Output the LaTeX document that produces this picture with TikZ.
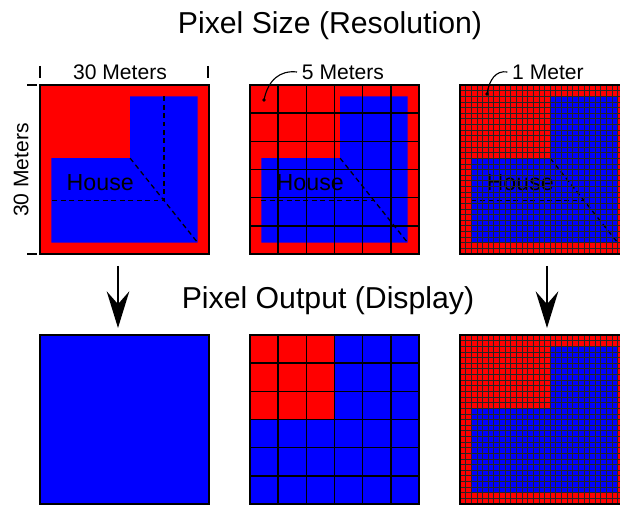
\documentclass[tikz,border=0pt]{standalone}
\usepackage{fontspec}
\setmainfont{Liberation Sans}
\usetikzlibrary{arrows.meta, positioning}
\definecolor{pixred}{HTML}{FF0000}
\definecolor{pixblue}{HTML}{0000FF}

\tikzset{
  panelat/.style={shift={#1}, x=0.1408cm, y=-0.1408cm},
  panelframe/.style={draw=black, line width=1.5pt},
  coarsegrid/.style={draw=black, line width=1.1pt},
  finegrid/.style={draw=black!85, line width=0.5pt},
  roofline/.style={draw=black, line width=0.9pt, dash pattern=on 3.5pt off 2.5pt},
  housetext/.style={font=\fontsize{16.5}{18}\selectfont},
  dimtext/.style={font=\fontsize{15}{17}\selectfont},
  titletext/.style={font=\fontsize{21.5}{25}\selectfont},
  leader/.style={draw=black, line width=0.8pt},
  downarrow/.style={-{Stealth[length=26pt, width=16pt, inset=9pt]}, line width=2pt},
}
% blue L-shaped house in a 30 m x 30 m cell
\newcommand{\houseL}{\fill[pixblue] (2,13) -- (16,13) -- (16,2) -- (28,2) -- (28,28) -- (2,28) -- cycle;}

\begin{document}
\begin{tikzpicture}[x=0.025cm, y=-0.025cm]
\path[use as bounding box, clip] (0,0) rectangle (620,505);

% Titles
\node[titletext] (sizetitle) at (330,26) {Pixel Size (Resolution)};
\node[titletext] (outputtitle) at (328,301) {Pixel Output (Display)};

% Top row: 30 m pixel
\begin{scope}[panelat={(40,85)}]
  \fill[pixred] (0,0) rectangle (30,30);
  \houseL
  \draw[roofline] (22,2) -- (22,20.5) -- (2,20.5);
  \draw[roofline] (16,13) -- (28,28);
  \node[housetext] (houseA) at (10.7,17.4) {House};
  \draw[panelframe] (0,0) rectangle (30,30);
\end{scope}

% Top row: 5 m pixels
\begin{scope}[panelat={(250,85)}]
  \fill[pixred] (0,0) rectangle (30,30);
  \houseL
  \foreach \k in {5,10,...,25} {
    \draw[coarsegrid] (\k,0) -- (\k,30);
    \draw[coarsegrid] (0,\k) -- (30,\k);
  }
  \draw[roofline] (2,20.5) -- (22,20.5);
  \draw[roofline] (16,13) -- (28,28);
  \node[housetext] (houseB) at (10.7,17.4) {House};
  \draw[panelframe] (0,0) rectangle (30,30);
\end{scope}

% Top row: 1 m pixels
\begin{scope}[panelat={(460,85)}]
  \fill[pixred] (0,0) rectangle (30,30);
  \houseL
  \draw[roofline] (2,20.5) -- (22,20.5);
  \draw[roofline] (16,13) -- (28,28);
  \node[housetext] (houseC) at (10.7,17.4) {House};
  \foreach \k in {1,...,29} {
    \draw[finegrid] (\k,0) -- (\k,30);
    \draw[finegrid] (0,\k) -- (30,\k);
  }
  \draw[panelframe] (0,0) rectangle (30,30);
\end{scope}

% Dimensions and pixel size labels
\node[dimtext] (widthlabel) at (120,72) {30 Meters};
\node[dimtext, rotate=90] (heightlabel) at (21,170) {30 Meters};
\draw[line width=0.8pt] (40,66) -- (40,78);
\draw[line width=0.8pt] (208,66) -- (208,78);
\draw[line width=0.8pt] (27,85) -- (37,85);
\draw[line width=0.8pt] (27,254) -- (37,254);

\node[dimtext] (coarselabel) at (343,72) {5 Meters};
\coordinate (coarsedot) at (264,100);
\fill (coarsedot) circle (1.8);
\draw[leader] (coarselabel.west) .. controls (280,70) and (268,80) .. (coarsedot);

\node[dimtext] (finelabel) at (548,72) {1 Meter};
\coordinate (finedot) at (487,94);
\fill (finedot) circle (1.8);
\draw[leader] (finelabel.west) .. controls (496,70) and (489,80) .. (finedot);

% Arrows
\coordinate (arrowAtop) at (118,266);
\coordinate (arrowAtip) at (118,328);
\coordinate (arrowCtop) at (547,266);
\coordinate (arrowCtip) at (547,328);
\draw[downarrow] (arrowAtop) -- (arrowAtip);
\draw[downarrow] (arrowCtop) -- (arrowCtip);

% Bottom row: displayed pixels
\begin{scope}[panelat={(40,335)}]
  \fill[pixblue] (0,0) rectangle (30,30);
  \draw[panelframe] (0,0) rectangle (30,30);
\end{scope}

\begin{scope}[panelat={(250,335)}]
  \fill[pixblue] (0,0) rectangle (30,30);
  \fill[pixred] (0,0) rectangle (15,15);
  \foreach \k in {5,10,...,25} {
    \draw[coarsegrid] (\k,0) -- (\k,30);
    \draw[coarsegrid] (0,\k) -- (30,\k);
  }
  \draw[panelframe] (0,0) rectangle (30,30);
\end{scope}

\begin{scope}[panelat={(460,335)}]
  \fill[pixred] (0,0) rectangle (30,30);
  \houseL
  \foreach \k in {1,...,29} {
    \draw[finegrid] (\k,0) -- (\k,30);
    \draw[finegrid] (0,\k) -- (30,\k);
  }
  \draw[panelframe] (0,0) rectangle (30,30);
\end{scope}
\end{tikzpicture}
\end{document}
